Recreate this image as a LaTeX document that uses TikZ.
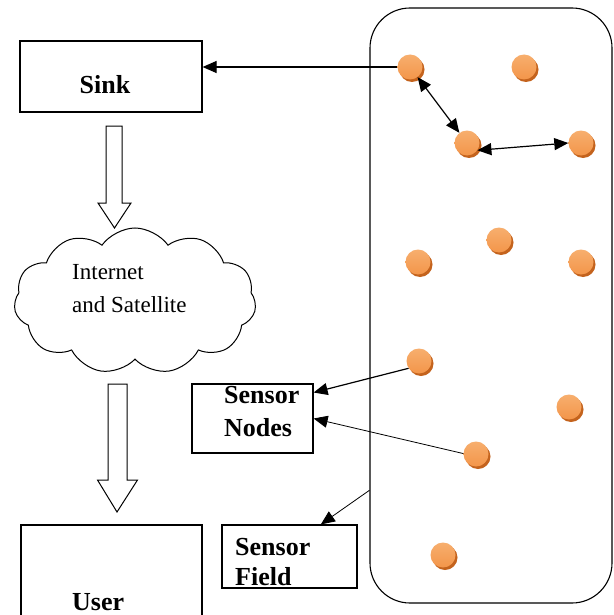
\documentclass[tikz,border=0pt]{standalone}
\usepackage{fontspec}
\setmainfont{Liberation Serif}
\usetikzlibrary{shapes.symbols,arrows.meta,calc,shadows}
\definecolor{ballor}{HTML}{F3964A}
\definecolor{balllt}{HTML}{F7AE6E}
\definecolor{ballsh}{HTML}{C4631D}
\begin{document}
\begin{tikzpicture}[x=1pt,y=-1pt,
  box/.style={draw, line width=1.2pt, inner sep=0pt},
  lbl/.style={font=\fontsize{26}{33}\selectfont\bfseries, inner sep=0pt, anchor=base west},
  ctext/.style={font=\fontsize{23}{33}\selectfont, inner sep=0pt, anchor=base west},
  ball/.style={circle, inner sep=0pt, minimum size=25pt, top color=balllt, bottom color=ballor,
     general shadow={fill=ballsh, shadow xshift=2pt, shadow yshift=-2.5pt}},
  conn/.style={line width=1.2pt, -{Triangle[length=14pt,width=12pt]}},
  thinconn/.style={line width=0.8pt, -{Triangle[length=14pt,width=12pt]}},
  dbl/.style={line width=1.2pt, {Triangle[length=14pt,width=12pt]}-{Triangle[length=14pt,width=12pt]}},
  blockarrow/.style={draw, line width=1pt, fill=white}
]
\useasboundingbox (0,0) rectangle (613,615);
\fill[white] (0,0) rectangle (613,615);

% boxes
\node[box, minimum width=182pt, minimum height=71pt] (sink) at (111,76.5) {};
\node[lbl, anchor=base] at (105,94) {Sink};

\node[box, minimum width=121pt, minimum height=69pt] (snodes) at (252.5,418.5) {};
\node[lbl] at (224,403) {Sensor};
\node[lbl] at (224,436) {Nodes};

\node[box, minimum width=135pt, minimum height=63pt] (sfield) at (289.5,556.5) {};
\node[lbl] at (235,555) {Sensor};
\node[lbl] at (235,585) {Field};

\node[box, minimum width=181pt, minimum height=120pt] (user) at (111.5,585) {};
\node[lbl] at (72,610) {User};

% cloud
\node[cloud, draw, line width=1pt, cloud puffs=11, cloud puff arc=110, aspect=1.7,
      minimum width=242pt, minimum height=146pt, inner sep=0pt] (cloud) at (135,301) {};
\node[ctext] at (72,279) {Internet};
\node[ctext] at (72,312) {and Satellite};

% block arrows
\path[blockarrow] (106,126) -- (122,126) -- (122,203) -- (131,203) -- (114.5,228)
   -- (98,203) -- (106,203) -- cycle;
\path[blockarrow] (108,384) -- (127,384) -- (127,480) -- (137.5,480) -- (117,512)
   -- (97.5,480) -- (108,480) -- cycle;

% sensor field
\node[draw, line width=1.1pt, rounded corners=40pt, minimum width=242pt, minimum height=595pt,
      inner sep=0pt] (field) at (491,305.5) {};

% sensor nodes
\node[ball] (n1) at (410,67) {};
\node[ball] (n2) at (524,67) {};
\node[ball] (n3) at (467,143) {};
\node[ball] (n4) at (581,143) {};
\node[ball] (n5) at (499,240) {};
\node[ball] (n6) at (418,262) {};
\node[ball] (n7) at (581,262) {};
\node[ball] (n8) at (419,361) {};
\node[ball] (n9) at (569,407) {};
\node[ball] (n10) at (476,454) {};
\node[ball] (n11) at (443,555) {};

% connectors
\draw[conn] (n1.west) -- (n1.west -| sink.east);
\draw[dbl] (n1) -- (n3);
\draw[dbl] (n3.-35) -- (n4.west);
\draw[conn] (n8.215) -- ($(snodes.north east)!0.13!(snodes.south east)$);
\draw[thinconn] (n10.178) -- (snodes.east);
\draw[thinconn] ($(field.north west)!0.81!(field.south west)$) -- ($(sfield.north west)!0.73!(sfield.north east)$);
\end{tikzpicture}
\end{document}
